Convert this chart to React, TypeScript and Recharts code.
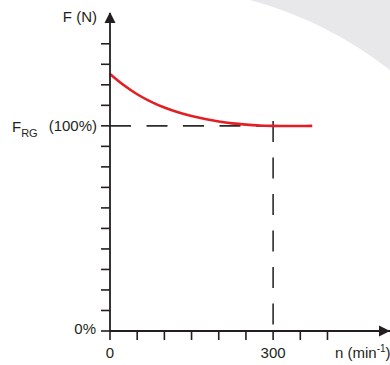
import React from 'react';
import { LineChart, Line, XAxis, YAxis, ReferenceLine, ReferenceDot, Customized } from 'recharts';

const speeds = [0, 25, 50, 75, 100, 125, 150, 175, 200, 225, 250, 275, 300, 325, 350, 372];
const forces = [125.3, 119.9, 115.4, 111.8, 108.9, 106.6, 104.8, 103.3, 102.1, 101.2, 100.6, 100.2, 100.0, 99.9, 99.9, 100.0];
const xTicks = [0, 50, 100, 150, 200, 250, 300, 350, 400];
const yTicks = [0, 10, 20, 30, 40, 50, 60, 70, 80, 90, 100, 110, 120, 130, 140];
const xTickLabels: Record<number, string> = { 0: '0', 300: '300' };
const refSpeed = 300;
const refForce = 100;
const xMax = 515;
const yMax = 155;

const data = speeds.map((n, i) => ({ n, f: forces[i] }));

const INK = '#231f20';
const FONT = '"Liberation Sans", Arial, sans-serif';
const FS = 15;

const XTick = (props: any) => {
  const { x, y, payload } = props;
  const label = xTickLabels[payload.value];
  if (!label) return null;
  return (
    <text x={x} y={y + 16} textAnchor="middle" fill={INK} fontSize={FS} fontFamily={FONT}>
      {label}
    </text>
  );
};

const YTick = (props: any) => {
  const { x, y, payload } = props;
  if (payload.value === 0) {
    return (
      <text x={x - 3} y={y + 2.5} textAnchor="end" fill={INK} fontSize={FS} fontFamily={FONT}>
        0%
      </text>
    );
  }
  if (payload.value === refForce) {
    return (
      <g>
        <text x={x - 2} y={y + 5.5} textAnchor="end" fill={INK} fontSize={FS} fontFamily={FONT}>
          (100%)
        </text>
        <text x={12} y={y + 6.5} fill={INK} fontSize={FS} fontFamily={FONT}>
          F
          <tspan fontSize={11} dy={4.5}>RG</tspan>
        </text>
      </g>
    );
  }
  return null;
};

const XArrow = (props: any) => {
  const { cx, cy } = props;
  return <path d={`M${cx} ${cy} L${cx - 11} ${cy - 5.5} L${cx - 11} ${cy + 5.5} Z`} fill={INK} />;
};

const YArrow = (props: any) => {
  const { cx, cy } = props;
  return <path d={`M${cx} ${cy - 1} L${cx - 5.5} ${cy + 10} L${cx + 5.5} ${cy + 10} Z`} fill={INK} />;
};

const Backdrop = () => <path d="M250 0 A398 398 0 0 1 390 70 L390 0 Z" fill="#e8e8ea" />;

export default function App() {
  return (
    <div style={{ position: 'absolute', left: 0, top: 0, width: 390, height: 365, background: '#fff' }}>
      <LineChart width={390} height={365} data={data} margin={{ top: 13, right: 0, bottom: 0, left: 0 }}>
        <Customized component={Backdrop} />
        <XAxis
          dataKey="n"
          type="number"
          domain={[0, xMax]}
          ticks={xTicks}
          interval={0}
          height={34}
          tickSize={9}
          tickMargin={2}
          tick={<XTick />}
          axisLine={{ stroke: INK, strokeWidth: 1.8 }}
          tickLine={{ stroke: INK, strokeWidth: 1.6 }}
          label={{
            content: () => (
              <text x={335} y={358} fill={INK} fontSize={FS} fontFamily={FONT}>
                n (min
                <tspan fontSize={10} dy={-6}>-1</tspan>
                <tspan dy={6}>)</tspan>
              </text>
            ),
          }}
        />
        <YAxis
          type="number"
          domain={[0, yMax]}
          ticks={yTicks}
          interval={0}
          width={110}
          tickSize={9}
          tickMargin={2}
          tick={<YTick />}
          axisLine={{ stroke: INK, strokeWidth: 1.8 }}
          tickLine={{ stroke: INK, strokeWidth: 1.6 }}
          label={{
            content: () => (
              <text x={97} y={21.5} textAnchor="end" fill={INK} fontSize={FS} fontFamily={FONT}>
                F (N)
              </text>
            ),
          }}
        />
        <ReferenceLine
          segment={[{ x: 0, y: refForce }, { x: refSpeed, y: refForce }]}
          stroke="#2b2b2b"
          strokeWidth={1.6}
          strokeDasharray="21 15.5"
        />
        <ReferenceLine
          segment={[{ x: refSpeed, y: 102.4 }, { x: refSpeed, y: 0 }]}
          stroke="#2b2b2b"
          strokeWidth={1.6}
          strokeDasharray="21 15.5"
        />
        <Line
          type="monotone"
          dataKey="f"
          stroke="#e31e24"
          strokeWidth={2.6}
          dot={false}
          isAnimationActive={false}
        />
        <ReferenceDot x={xMax} y={0} r={0} ifOverflow="visible" shape={<XArrow />} />
        <ReferenceDot x={0} y={yMax} r={0} ifOverflow="visible" shape={<YArrow />} />
      </LineChart>
    </div>
  );
}
